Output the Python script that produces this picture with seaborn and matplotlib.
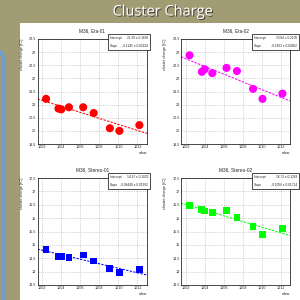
import numpy as np
import pandas as pd
import seaborn as sns
import matplotlib.pyplot as plt
import matplotlib.patheffects as pe
from matplotlib.patches import FancyBboxPatch, Rectangle
from matplotlib.ticker import MultipleLocator, FuncFormatter

# pressure [mbar] of each run, shared by all four modules
pressure = [1002.4, 1003.7, 1004.0, 1004.8, 1006.3, 1007.4, 1009.1, 1010.1, 1012.2]

# mean cluster charge [fC] per layer
eta01 = [21.22, 20.85, 20.82, 20.90, 20.90, 20.68, 20.10, 20.00, 20.22]
eta02 = [22.88, 22.25, 22.35, 22.20, 22.40, 22.28, 21.60, 21.22, 21.42]
stereo01 = [14.82, 14.57, 14.58, 14.53, 14.62, 14.40, 14.12, 13.97, 14.07]
stereo02 = [16.48, 16.33, 16.27, 16.20, 16.28, 16.02, 15.68, 15.38, 15.60]

titles = ['M36, Eta-01', 'M36, Eta-02', 'M36, Stereo-01', 'M36, Stereo-02']
colors = ['#ff0000', '#ff00ff', '#0000ff', '#00ff00']
markers = ['o', 'o', 's', 's']

# linear fit results, charge = intercept + slope * (p - 1000)
intercepts = [21.39, 23.04, 14.97, 16.72]
intercept_errs = ['0.1636', '0.2105', '0.1023', '0.1268']
slopes = ['-0.1145', '-0.1462', '-0.08449', '-0.1056']
slope_errs = ['0.02224', '0.02862', '0.01392', '0.01714']
ylims = [(19.5, 23.5), (19.5, 23.5), (13.5, 17.5), (13.5, 17.5)]

series = [eta01, eta02, stereo01, stereo02]

W = H = 300.0


def fx(px):
    return px / W


def fy(py):
    return 1 - py / H


sns.set_style('white')
plt.rcParams['font.family'] = ['Liberation Sans', 'DejaVu Sans']

fig = plt.figure(figsize=(3, 3), dpi=100)
fig.patch.set_facecolor('#a29c75')

# blue frame on the left of the slide
fig.patches.append(FancyBboxPatch((fx(-60), fy(320)), fx(64), fy(50) - fy(320),
                                  boxstyle='round,pad=0,rounding_size=0.04',
                                  transform=fig.transFigure, facecolor='none',
                                  edgecolor='#6c9fd9', lw=2.6, zorder=-2))
# white slide panel
fig.patches.append(Rectangle((fx(20), 0), fx(280), fy(23), transform=fig.transFigure,
                             facecolor='white', edgecolor='none', zorder=-1))

fig.text(fx(163), fy(12), 'Cluster Charge', ha='center', va='center',
         color='white', fontsize=10.5, family=['Open Sans', 'DejaVu Sans'],
         path_effects=[pe.withSimplePatchShadow(offset=(0.8, -0.8),
                                                shadow_rgbFace='#333333', alpha=0.8)])

# axes boxes in pixels: left, top, right, bottom
boxes = [(37.5, 39, 147, 144), (181, 39, 290, 144),
         (37.5, 178, 147, 285), (181, 178, 290, 285)]
stat_boxes = [(108, 34, 150, 50), (252, 34, 299, 50),
              (108, 173, 150, 189), (252, 173, 299, 189)]

xmin, xmax = 1001.5, 1013.0
fmt = FuncFormatter(lambda v, pos: f'{v:g}')

for i in range(4):
    l, t, r, b = boxes[i]
    ax = fig.add_axes([fx(l), fy(b), fx(r - l), fy(t) - fy(b)])
    ax.set_facecolor('white')
    df = pd.DataFrame({'p': pressure, 'q': series[i]})
    fit_x = np.array([xmin, xmax])
    fit_y = intercepts[i] + float(slopes[i]) * (fit_x - 1000)
    sns.lineplot(x=fit_x, y=fit_y, ax=ax, color=colors[i], lw=0.75,
                 linestyle=(0, (2.2, 1.3)), zorder=2)
    sns.scatterplot(data=df, x='p', y='q', ax=ax, color=colors[i],
                    marker=markers[i], s=34 if markers[i] == 'o' else 24,
                    edgecolor='none', zorder=3)
    ax.set_xlim(xmin, xmax)
    ax.set_ylim(*ylims[i])
    ax.xaxis.set_major_locator(MultipleLocator(2))
    ax.xaxis.set_minor_locator(MultipleLocator(0.5))
    ax.yaxis.set_major_locator(MultipleLocator(0.5))
    ax.yaxis.set_minor_locator(MultipleLocator(0.1))
    ax.xaxis.set_major_formatter(fmt)
    ax.yaxis.set_major_formatter(fmt)
    ax.grid(True, which='major', color='#b0b0b0', lw=0.4, linestyle=(0, (2, 2)))
    ax.tick_params(which='both', direction='in', labelsize=2.7, pad=0.8,
                   width=0.4, color='black')
    ax.tick_params(which='major', length=2.5)
    ax.tick_params(which='minor', length=1.2)
    for sp in ax.spines.values():
        sp.set_color('black')
        sp.set_linewidth(0.5)
    ax.set_xlabel('mbar', loc='right', fontsize=2.8, labelpad=1.5)
    ax.set_ylabel('cluster charge [fC]', loc='top', fontsize=2.8)
    ax.yaxis.set_label_coords(-14 / (r - l), 1.0)
    ax.set_title(titles[i], fontsize=3.4, pad=5)

    # ROOT style stats box
    sl, st, sr, sb = stat_boxes[i]
    fig.patches.append(Rectangle((fx(sl), fy(sb)), fx(sr - sl), fy(st) - fy(sb),
                                 transform=fig.transFigure, facecolor='white',
                                 edgecolor='black', lw=0.5, zorder=10))
    mid = (st + sb) / 2
    rows = [('Intercept', f'{intercepts[i]:.2f} ± {intercept_errs[i]}', (st + mid) / 2),
            ('Slope', f'{slopes[i]} ± {slope_errs[i]}', (mid + sb) / 2)]
    for name, val, yy in rows:
        fig.text(fx(sl + 2), fy(yy), name, fontsize=2.3, ha='left', va='center', zorder=11)
        fig.text(fx(sr - 2), fy(yy), val, fontsize=2.3, ha='right', va='center', zorder=11)

fig.savefig('out.png', dpi=100, facecolor=fig.get_facecolor())
